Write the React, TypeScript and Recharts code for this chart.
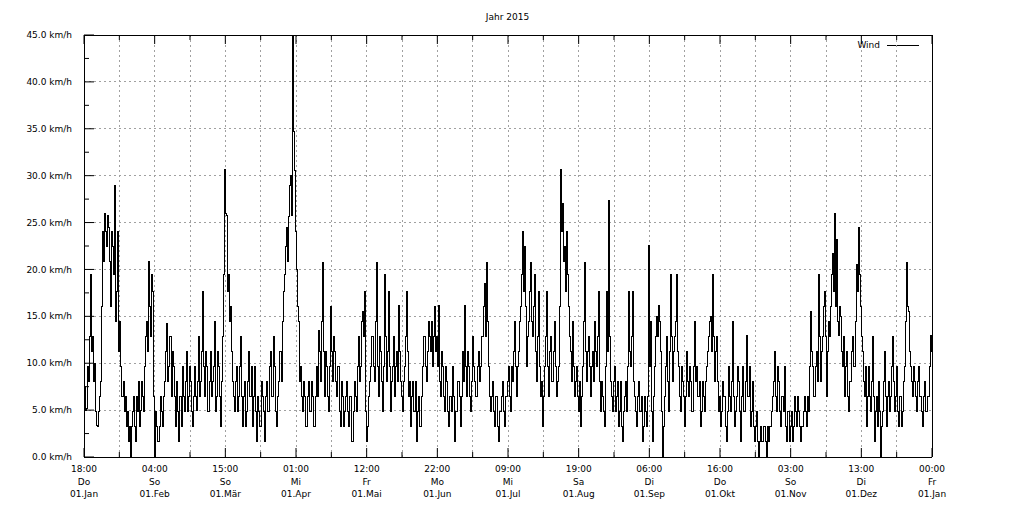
import React from 'react';
import { LineChart, Line, XAxis, YAxis, CartesianGrid } from 'recharts';

// Wind speed (km/h), read step by step across the year 2015
const windValues: number[] = [
  7.5, 5.0, 5.2, 9.7, 8.0, 12.9, 19.5, 11.3, 12.9, 8.0, 10.0, 4.8, 3.4, 3.2, 4.8, 6.4, 8.0, 16.0, 24.0, 20.9,
  26.0, 24.0, 22.5, 25.7, 24.5, 20.9, 16.0, 24.0, 22.5, 19.5, 28.9, 14.5, 17.7, 24.0, 11.3, 14.5, 9.7, 6.4, 6.5, 8.0,
  4.8, 6.4, 3.2, 4.8, 1.6, 3.2, 0.0, 3.2, 4.8, 6.4, 3.2, 1.6, 6.4, 4.8, 8.0, 3.2, 5.0, 8.0, 6.5, 4.8,
  9.7, 12.9, 14.5, 11.3, 20.9, 16.0, 12.9, 19.5, 17.7, 6.4, 0.0, 4.8, 3.2, 1.6, 1.6, 3.2, 6.4, 4.8, 3.2, 6.4,
  8.0, 11.3, 14.2, 8.0, 9.7, 12.9, 12.9, 6.4, 11.3, 9.7, 6.4, 3.2, 8.0, 4.8, 1.6, 6.4, 6.4, 3.2, 9.7, 6.4,
  4.8, 8.0, 11.3, 4.8, 6.4, 9.7, 8.0, 4.8, 3.2, 6.4, 9.7, 6.4, 5.0, 8.0, 12.9, 6.4, 8.0, 11.3, 17.7, 9.7,
  6.4, 11.3, 9.7, 4.8, 4.8, 8.0, 11.3, 6.4, 8.0, 9.7, 14.5, 4.8, 6.4, 11.3, 9.7, 6.4, 3.2, 8.0, 12.9, 19.5,
  30.7, 26.0, 25.7, 17.7, 19.5, 14.5, 16.0, 11.3, 8.0, 6.4, 4.8, 8.0, 9.7, 4.8, 6.4, 9.7, 12.9, 6.4, 3.2, 6.4,
  8.0, 3.2, 4.8, 8.0, 11.3, 6.4, 6.4, 9.7, 3.2, 6.4, 9.7, 4.8, 1.6, 6.4, 4.8, 3.2, 3.2, 8.0, 6.4, 4.8,
  1.6, 6.4, 8.0, 4.8, 4.8, 9.7, 11.3, 6.4, 6.4, 12.9, 9.7, 4.8, 3.2, 6.4, 8.0, 11.3, 11.3, 8.0, 14.5, 17.7,
  19.5, 22.5, 24.5, 20.9, 25.6, 28.9, 30.0, 25.7, 45.0, 34.7, 30.6, 24.0, 20.0, 16.0, 14.5, 8.0, 9.7, 6.4, 4.8, 8.0,
  6.4, 3.2, 3.2, 6.4, 8.0, 4.8, 4.8, 8.0, 6.4, 3.2, 3.2, 6.4, 9.7, 6.4, 13.5, 11.3, 8.0, 14.5, 20.7, 11.3,
  6.4, 11.3, 9.7, 6.4, 4.8, 9.7, 16.0, 11.3, 8.0, 12.9, 11.3, 8.0, 6.4, 9.7, 9.7, 4.8, 3.2, 8.0, 6.4, 3.2,
  4.8, 6.4, 8.0, 4.8, 3.2, 6.4, 6.4, 1.6, 1.6, 4.8, 8.0, 6.4, 4.8, 9.7, 12.9, 8.0, 9.7, 14.5, 15.5, 12.9,
  17.6, 4.8, 1.6, 3.2, 6.4, 8.0, 9.7, 12.9, 12.9, 9.7, 8.0, 14.5, 20.7, 9.7, 6.4, 12.9, 11.3, 8.0, 4.8, 9.7,
  19.5, 12.9, 8.0, 11.3, 17.6, 9.7, 4.8, 8.0, 9.7, 12.9, 6.4, 9.7, 11.3, 8.0, 16.2, 11.3, 8.0, 6.4, 4.8, 8.0,
  9.7, 12.9, 17.6, 11.3, 6.4, 8.0, 3.2, 6.4, 8.0, 4.8, 4.8, 8.0, 1.6, 4.8, 6.4, 3.2, 3.2, 6.4, 9.7, 12.9,
  12.9, 9.7, 8.0, 11.3, 14.5, 12.9, 11.3, 14.5, 9.7, 12.9, 16.0, 11.3, 12.9, 9.7, 16.2, 8.0, 6.4, 11.3, 9.7, 6.4,
  4.8, 9.7, 8.0, 4.8, 3.2, 6.4, 6.4, 4.8, 9.7, 6.4, 1.6, 4.8, 4.8, 8.0, 8.0, 6.4, 3.2, 6.4, 11.3, 8.0,
  16.2, 9.7, 6.4, 11.3, 9.7, 6.4, 4.8, 8.0, 12.9, 9.7, 8.0, 6.4, 6.4, 9.7, 11.3, 8.0, 9.7, 12.9, 12.9, 16.0,
  18.5, 12.9, 20.7, 14.5, 9.7, 6.4, 4.8, 6.4, 8.0, 4.8, 3.2, 6.4, 6.4, 3.2, 1.6, 4.8, 4.8, 6.4, 8.0, 4.8,
  3.2, 6.4, 6.4, 8.0, 9.7, 6.4, 4.8, 9.7, 8.0, 11.3, 14.4, 9.7, 6.4, 9.7, 11.3, 14.5, 16.0, 19.5, 24.0, 17.7,
  22.5, 16.0, 9.7, 12.9, 14.5, 17.7, 20.7, 14.5, 12.9, 16.0, 19.5, 11.3, 8.0, 12.9, 17.6, 9.7, 6.4, 8.0, 3.2, 6.4,
  9.7, 12.9, 17.6, 9.7, 6.4, 11.3, 12.9, 8.0, 8.0, 11.3, 14.5, 9.7, 6.4, 8.0, 9.7, 16.0, 30.7, 24.0, 27.0, 20.9,
  22.5, 17.7, 24.0, 19.5, 16.0, 12.9, 11.3, 8.0, 14.5, 9.7, 6.4, 8.0, 9.7, 6.4, 4.8, 8.0, 3.2, 6.4, 9.7, 14.5,
  20.7, 11.3, 8.0, 11.3, 12.9, 9.7, 6.4, 9.7, 11.3, 8.0, 14.5, 11.3, 9.7, 12.9, 17.6, 8.0, 4.8, 8.0, 6.4, 4.8,
  3.2, 9.7, 17.6, 11.3, 27.3, 12.9, 8.0, 6.4, 4.8, 8.0, 9.7, 4.8, 6.4, 8.0, 3.2, 4.8, 8.0, 3.2, 1.6, 4.8,
  6.4, 8.0, 4.8, 9.7, 17.6, 11.3, 9.7, 12.9, 17.6, 8.0, 6.4, 4.8, 3.2, 6.4, 8.0, 4.8, 4.8, 6.4, 1.6, 3.2,
  6.4, 4.8, 3.2, 6.4, 22.6, 9.7, 14.4, 4.8, 1.6, 6.4, 9.7, 12.9, 15.0, 12.9, 16.2, 14.5, 11.3, 4.8, 0.0, 3.2,
  6.4, 9.7, 12.9, 8.0, 4.8, 11.3, 19.5, 12.9, 8.0, 11.3, 12.9, 14.5, 19.5, 11.3, 9.7, 6.4, 4.8, 9.7, 8.0, 6.4,
  3.2, 6.4, 11.3, 8.0, 6.4, 9.7, 8.0, 4.8, 4.8, 9.7, 14.4, 8.0, 9.7, 6.4, 6.4, 8.0, 3.2, 4.8, 8.0, 6.4,
  4.8, 8.0, 9.7, 11.3, 12.9, 14.5, 15.0, 11.3, 19.5, 12.9, 8.0, 11.3, 12.9, 8.0, 4.8, 6.4, 3.2, 4.8, 8.0, 6.4,
  6.4, 3.2, 1.6, 4.8, 9.7, 6.4, 4.8, 8.0, 14.4, 6.4, 3.2, 4.8, 6.4, 9.7, 8.0, 4.8, 1.6, 6.4, 9.7, 4.8,
  4.8, 8.0, 13.0, 6.4, 6.4, 9.7, 3.2, 4.8, 8.0, 3.2, 1.6, 3.2, 4.8, 1.6, 0.0, 1.6, 3.2, 1.6, 1.6, 3.2,
  3.2, 1.6, 0.0, 3.2, 1.6, 3.2, 3.2, 4.8, 6.4, 8.0, 11.3, 6.4, 4.8, 9.7, 8.0, 4.8, 3.2, 6.4, 6.4, 4.8,
  9.7, 3.2, 1.6, 4.8, 4.8, 1.6, 3.2, 4.8, 1.6, 3.2, 6.4, 4.8, 3.2, 6.4, 4.8, 3.2, 1.6, 3.2, 3.2, 4.8,
  6.4, 4.8, 3.2, 6.4, 4.8, 9.7, 15.5, 11.3, 9.7, 6.4, 6.4, 9.7, 11.3, 8.0, 19.5, 12.9, 8.0, 11.3, 12.9, 16.0,
  17.6, 12.9, 6.4, 11.3, 14.5, 12.9, 16.0, 19.5, 21.7, 17.7, 26.0, 16.0, 23.2, 14.5, 13.0, 16.0, 15.0, 11.3, 9.7, 12.9,
  6.4, 9.7, 11.3, 6.4, 4.8, 8.0, 8.0, 11.3, 12.9, 9.7, 9.7, 14.5, 20.5, 17.7, 24.5, 19.5, 16.0, 12.9, 11.3, 8.0,
  6.4, 9.7, 3.2, 6.4, 9.7, 6.4, 4.8, 8.0, 12.9, 6.4, 1.6, 4.8, 6.4, 3.2, 8.0, 4.8, 0.0, 3.2, 4.8, 8.0,
  11.3, 6.4, 3.2, 6.4, 8.0, 4.8, 6.4, 9.7, 12.9, 8.0, 4.8, 6.4, 9.7, 4.8, 3.2, 6.4, 6.4, 3.2, 4.8, 8.0,
  9.7, 14.5, 20.7, 16.0, 15.5, 11.3, 9.7, 8.0, 6.4, 9.7, 8.0, 6.4, 4.8, 8.0, 9.7, 6.4, 6.4, 4.8, 3.2, 6.4,
  8.0, 4.8, 4.8, 6.4, 6.4, 9.7, 13.0, 11.3, 9.7,
];

// Tick labels (one per month)
const tickTimes = ['18:00', '04:00', '15:00', '01:00', '12:00', '22:00', '09:00', '19:00', '06:00', '16:00', '03:00', '13:00', '00:00'];
const tickDays = ['Do', 'So', 'So', 'Mi', 'Fr', 'Mo', 'Mi', 'Sa', 'Di', 'Do', 'So', 'Di', 'Fr'];
const tickDates = ['01.Jan', '01.Feb', '01.Mär', '01.Apr', '01.Mai', '01.Jun', '01.Jul', '01.Aug', '01.Sep', '01.Okt', '01.Nov', '01.Dez', '01.Jan'];

const yTicks = [0, 2.5, 5, 7.5, 10, 12.5, 15, 17.5, 20, 22.5, 25, 27.5, 30, 32.5, 35, 37.5, 40, 42.5, 45];
const yGridValues = [0, 5, 10, 15, 20, 25, 30, 35, 40, 45];

const N = windValues.length - 1;
const data = windValues.map((v, i) => ({ i, wind: v }));
const xTicks = Array.from({ length: 25 }, (_, k) => (k * N) / 24);

const FONT = '"DejaVu Sans", sans-serif';

const tickIndex = (value: number) => Math.round((value * 24) / N);

const BottomTick = (props: any) => {
  const { x, y, payload } = props;
  const k = tickIndex(payload.value);
  const major = k % 2 === 0;
  const m = k / 2;
  return (
    <g>
      <line x1={x} x2={x} y1={y} y2={y - (major ? 9 : 5)} stroke="#000" strokeWidth={1} />
      {major && (
        <g fontFamily={FONT} fontSize={9} fill="#000" textAnchor="middle">
          <text x={x} y={y + 12} dy="0.35em">{tickTimes[m]}</text>
          <text x={x} y={y + 25} dy="0.35em">{tickDays[m]}</text>
          <text x={x} y={y + 37} dy="0.35em">{tickDates[m]}</text>
        </g>
      )}
    </g>
  );
};

const TopTick = (props: any) => {
  const { x, y, payload } = props;
  const k = tickIndex(payload.value);
  const major = k % 2 === 0;
  return <line x1={x} x2={x} y1={y} y2={y + (major ? 9 : 5)} stroke="#000" strokeWidth={1} />;
};

const isMajorY = (v: number) => Math.abs(v % 5) < 1e-6;

const LeftTick = (props: any) => {
  const { x, y, payload } = props;
  const v = payload.value as number;
  const major = isMajorY(v);
  return (
    <g>
      <line x1={x} x2={x + (major ? 10 : 5)} y1={y} y2={y} stroke="#000" strokeWidth={1} />
      {major && (
        <text x={x - 12} y={y} dy="0.35em" textAnchor="end" fontFamily={FONT} fontSize={9} fill="#000">
          {v.toFixed(1)} km/h
        </text>
      )}
    </g>
  );
};

const RightTick = (props: any) => {
  const { x, y, payload } = props;
  const v = payload.value as number;
  const major = isMajorY(v);
  return (
    <g>
      <line x1={x} x2={x - (major ? 10 : 5)} y1={y} y2={y} stroke="#000" strokeWidth={1} />
      {major && (
        <text x={x + 7} y={y} dy="0.35em" textAnchor="start" fontFamily={FONT} fontSize={9} fill="#000">
          {v.toFixed(1)} km/h
        </text>
      )}
    </g>
  );
};

export default function App() {
  return (
    <div style={{ position: 'absolute', left: 0, top: 0, width: 1015, height: 507, background: '#fff' }}>
      <style>{`.recharts-line-curve, .recharts-cartesian-grid line, .recharts-cartesian-axis-line, .recharts-cartesian-axis-ticks line { shape-rendering: crispEdges; }`}</style>
      <div
        style={{
          position: 'absolute',
          left: 0,
          top: 11,
          width: 1015,
          textAlign: 'center',
          fontFamily: FONT,
          fontSize: 9,
          color: '#000',
          lineHeight: '12px',
        }}
      >
        Jahr 2015
      </div>
      <div
        style={{
          position: 'absolute',
          left: 820,
          top: 39,
          width: 60,
          textAlign: 'right',
          fontFamily: FONT,
          fontSize: 9,
          color: '#000',
          lineHeight: '12px',
        }}
      >
        Wind
      </div>
      <div style={{ position: 'absolute', left: 887, top: 45, width: 32, height: 0, borderTop: '1px solid #000' }} />
      <LineChart width={1015} height={507} data={data} margin={{ top: 34, right: 0, bottom: 0, left: 0 }}>
        <CartesianGrid stroke="#a0a0a0" strokeDasharray="2 3" horizontalValues={yGridValues} />
        <XAxis
          dataKey="i"
          type="number"
          domain={[0, N]}
          ticks={xTicks}
          interval={0}
          height={50}
          tickSize={0}
          tickMargin={0}
          tickLine={false}
          axisLine={{ stroke: '#000' }}
          tick={<BottomTick />}
        />
        <XAxis
          xAxisId="top"
          orientation="top"
          dataKey="i"
          type="number"
          domain={[0, N]}
          ticks={xTicks}
          interval={0}
          height={1}
          tickSize={0}
          tickMargin={0}
          tickLine={false}
          axisLine={{ stroke: '#000' }}
          tick={<TopTick />}
        />
        <YAxis
          type="number"
          domain={[0, 45]}
          ticks={yTicks}
          interval={0}
          width={84}
          tickSize={0}
          tickMargin={0}
          tickLine={false}
          axisLine={{ stroke: '#000' }}
          tick={<LeftTick />}
        />
        <YAxis
          yAxisId="right"
          orientation="right"
          type="number"
          domain={[0, 45]}
          ticks={yTicks}
          interval={0}
          width={83}
          tickSize={0}
          tickMargin={0}
          tickLine={false}
          axisLine={{ stroke: '#000' }}
          tick={<RightTick />}
        />
        <Line
          type="stepAfter"
          dataKey="wind"
          stroke="#000"
          strokeWidth={1}
          dot={false}
          activeDot={false}
          isAnimationActive={false}
        />
      </LineChart>
    </div>
  );
}
